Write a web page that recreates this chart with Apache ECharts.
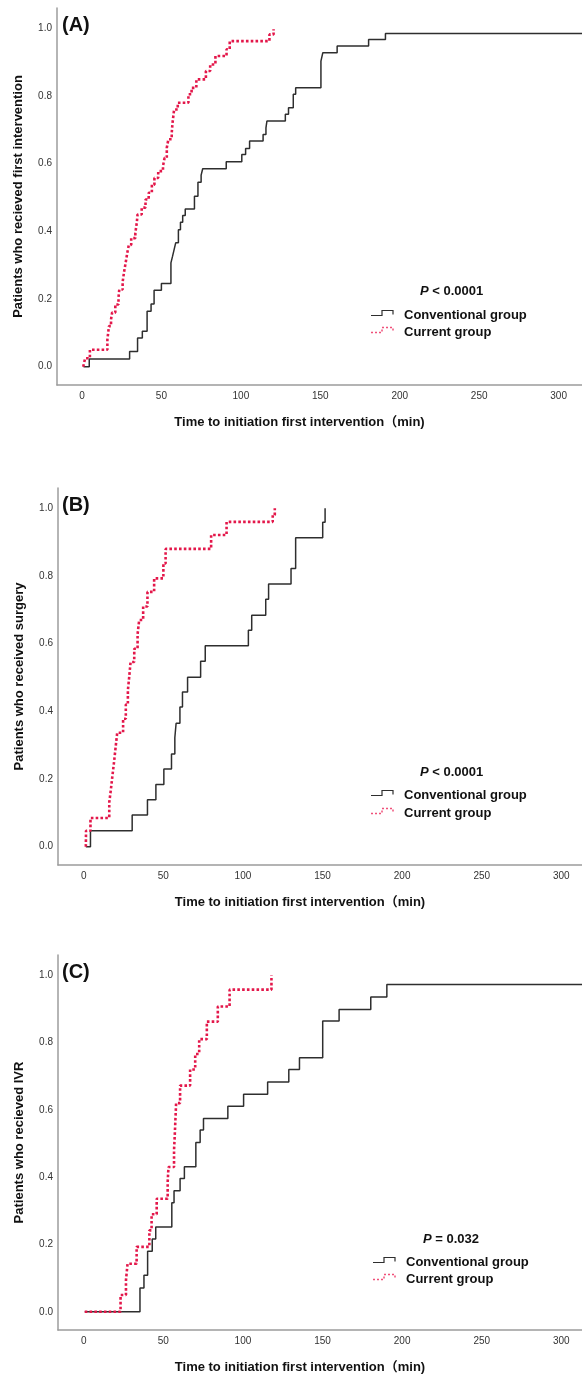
<!DOCTYPE html>
<html>
<head>
<meta charset="utf-8">
<script src="https://cdn.jsdelivr.net/npm/echarts@6/dist/echarts.min.js"></script>
<style>
html,body{margin:0;padding:0;background:#fff;}
#chart{width:582px;height:1375px;}
</style>
</head>
<body>
<div id="chart"></div>
<script>
// ---------- data ----------
const xTicks = [0, 50, 100, 150, 200, 250, 300];
const yTicks = [0, 0.2, 0.4, 0.6, 0.8, 1.0];
const seriesNames = ['Conventional group', 'Current group'];
const panelLabels = ['(A)', '(B)', '(C)'];
const yTitles = ['Patients who recieved first intervention', 'Patients who received surgery', 'Patients who recieved IVR'];
const xTitle = 'Time to initiation first intervention\uFF08min)';
const pLabels = [' < 0.0001', ' < 0.0001', ' = 0.032'];

// Panel A
const aConvTime = [1, 4.6, 30, 35, 38, 41, 43.5, 45.4, 50, 56, 57, 58, 59, 60.7, 62, 63.4, 65, 70.8, 73, 75, 76, 90.8, 100.6, 103, 105.5, 114, 115.8, 116.4, 128, 130, 133, 134.5, 150.4, 151.6, 160.6, 180.4, 191, 315];
const aConvVal  = [0, 0.023, 0.045, 0.085, 0.105, 0.164, 0.185, 0.226, 0.246, 0.307, 0.326, 0.346, 0.366, 0.405, 0.427, 0.447, 0.466, 0.504, 0.545, 0.566, 0.585, 0.606, 0.627, 0.645, 0.667, 0.686, 0.706, 0.726, 0.746, 0.765, 0.805, 0.824, 0.903, 0.928, 0.948, 0.967, 0.985, 0.985];
const aCurrTime = [0.8, 2, 5, 16, 17, 18.3, 19, 21, 23, 23.5, 25.6, 26.5, 27.5, 28.5, 29.5, 31, 33.6, 34.5, 35, 37.6, 40, 42, 44, 45.6, 48, 51, 52, 53.4, 54.4, 56.5, 57, 58, 60.3, 67, 69, 72, 78, 80.7, 84, 91, 93, 118, 120.6];
const aCurrVal  = [0, 0.025, 0.05, 0.08, 0.12, 0.14, 0.16, 0.184, 0.205, 0.228, 0.25, 0.28, 0.307, 0.336, 0.36, 0.38, 0.395, 0.425, 0.45, 0.47, 0.494, 0.514, 0.538, 0.558, 0.578, 0.593, 0.617, 0.647, 0.672, 0.691, 0.72, 0.76, 0.78, 0.805, 0.824, 0.849, 0.874, 0.893, 0.918, 0.938, 0.962, 0.982, 0.997];

// Panel B
const bConvTime = [1.3, 4.2, 30.4, 40, 45.3, 50.3, 55.1, 57.2, 58, 60.4, 62, 65.2, 73.4, 76.3, 103.4, 105.5, 114.3, 116.1, 130.2, 133.1, 150.1, 151.6];
const bConvVal  = [0, 0.047, 0.094, 0.139, 0.184, 0.23, 0.274, 0.322, 0.365, 0.413, 0.457, 0.501, 0.548, 0.594, 0.64, 0.684, 0.731, 0.776, 0.822, 0.913, 0.959, 1.0];
const bCurrTime = [1.3, 1.4, 4.2, 16, 17, 18, 19, 20, 21, 24.7, 26.4, 27.7, 28.5, 29.4, 31.7, 33.8, 34.8, 37.3, 40, 44.2, 50, 51.4, 80, 89.7, 118.7, 120];
const bCurrVal  = [0, 0.047, 0.085, 0.131, 0.168, 0.21, 0.25, 0.294, 0.337, 0.378, 0.42, 0.462, 0.5, 0.546, 0.585, 0.628, 0.67, 0.71, 0.753, 0.793, 0.837, 0.88, 0.921, 0.96, 0.98, 1.0];

// Panel C
const cConvTime = [0.6, 35.3, 37.8, 40.1, 43, 45.2, 55.3, 56.7, 60.5, 63.2, 70.4, 73.1, 75.2, 90.5, 100.4, 115.5, 128.8, 135.5, 150.1, 160.4, 180.3, 190.4, 315];
const cConvVal  = [0, 0.071, 0.109, 0.18, 0.216, 0.252, 0.324, 0.36, 0.396, 0.431, 0.503, 0.54, 0.574, 0.611, 0.646, 0.683, 0.72, 0.755, 0.864, 0.898, 0.935, 0.972, 0.972];
const cCurrTime = [0.6, 23.1, 26.5, 27.5, 33.2, 41.2, 42.6, 45.8, 52.7, 53.2, 56.7, 57.2, 57.6, 58, 60.5, 66.8, 70, 72.5, 77.3, 84.2, 91.6, 117.9];
const cCurrVal  = [0, 0.05, 0.094, 0.143, 0.193, 0.242, 0.29, 0.336, 0.385, 0.43, 0.48, 0.53, 0.575, 0.62, 0.672, 0.72, 0.766, 0.81, 0.862, 0.907, 0.957, 1.0];

// ---------- build ----------
const zip = (t, v) => t.map((x, i) => [x, v[i]]);
const panels = [
  {conv: zip(aConvTime, aConvVal), curr: zip(aCurrTime, aCurrVal)},
  {conv: zip(bConvTime, bConvVal), curr: zip(bCurrTime, bCurrVal)},
  {conv: zip(cConvTime, cConvVal), curr: zip(cCurrTime, cCurrVal)}
];

const layout = [
  {left: 57, top: 8,   xmin: -15.7, xmax: 314.7, legX: 371, pY: 291,  l1: 315,  l2: 332,  pX: 420},
  {left: 58, top: 488, xmin: -16.2, xmax: 313,   legX: 371, pY: 772,  l1: 795,  l2: 813,  pX: 420},
  {left: 58, top: 955, xmin: -16.2, xmax: 313,   legX: 373, pY: 1239, l1: 1262, l2: 1279, pX: 423}
];
const gridH = 377;
const FONT = '"Liberation Sans", Arial, "Noto Sans CJK SC", sans-serif';
const BLACK = '#2e2e2e';
const RED = '#e3174a';
const AXIS = '#9c9c9c';

const grids = [], xAxes = [], yAxes = [], series = [], graphics = [];
layout.forEach((L, i) => {
  grids.push({left: L.left, top: L.top, width: 582 - L.left, height: gridH});
  xAxes.push({
    type: 'value', gridIndex: i, min: L.xmin, max: L.xmax,
    axisLine: {show: true, onZero: false, lineStyle: {color: AXIS, width: 1.5}},
    axisTick: {show: false}, splitLine: {show: false},
    axisLabel: {customValues: xTicks, fontSize: 10, color: '#333', fontFamily: FONT, margin: 6},
    name: xTitle, nameLocation: 'middle', nameGap: 31,
    nameTextStyle: {fontSize: 13, fontWeight: 'bold', color: '#111', fontFamily: FONT, padding: [0, 40, 0, 0]}
  });
  yAxes.push({
    type: 'value', gridIndex: i, min: -0.054, max: 1.06,
    axisLine: {show: true, onZero: false, lineStyle: {color: AXIS, width: 1.5}},
    axisTick: {show: false}, splitLine: {show: false},
    axisLabel: {customValues: yTicks, fontSize: 10, color: '#333', fontFamily: FONT, margin: 5,
      formatter: v => v.toFixed(1)},
    name: yTitles[i], nameLocation: 'middle', nameGap: 32, nameRotate: 90,
    nameTextStyle: {fontSize: 13, fontWeight: 'bold', color: '#111', fontFamily: FONT}
  });
  series.push({
    name: seriesNames[0], type: 'line', step: 'end', xAxisIndex: i, yAxisIndex: i,
    data: panels[i].conv, showSymbol: false, symbol: 'none',
    lineStyle: {color: BLACK, width: 1.5}, z: 2, animation: false
  });
  series.push({
    name: seriesNames[1], type: 'line', step: 'end', xAxisIndex: i, yAxisIndex: i,
    data: panels[i].curr, showSymbol: false, symbol: 'none',
    lineStyle: {color: RED, width: 2.6, type: [2.6, 2.2]}, z: 3, animation: false
  });
  // panel label
  graphics.push({type: 'text', left: 62, top: L.top + 7,
    style: {text: panelLabels[i], font: 'bold 20px ' + FONT, fill: '#111'}});
  // P value
  graphics.push({type: 'text', x: L.pX, y: L.pY,
    style: {text: '{i|P}' + pLabels[i], font: 'bold 13px ' + FONT, fill: '#111', verticalAlign: 'middle',
      rich: {i: {fontStyle: 'italic', fontWeight: 'bold', fontSize: 13, fontFamily: FONT}}}});
  // legend icons
  const icon = (y, color, dash, w) => ({type: 'polyline', silent: true,
    shape: {points: [[L.legX, y], [L.legX + 11, y], [L.legX + 11, y - 5], [L.legX + 22, y - 5], [L.legX + 22, y - 1]]},
    style: {stroke: color, lineWidth: w, fill: null, lineDash: dash}});
  graphics.push(icon(L.l1 + 0.5, BLACK, null, 1.2));
  graphics.push(icon(L.l2 + 0.5, '#f0507a', [2, 2], 1.5));
  graphics.push({type: 'text', x: L.legX + 33, y: L.l1,
    style: {text: seriesNames[0], font: 'bold 13px ' + FONT, fill: '#111', verticalAlign: 'middle'}});
  graphics.push({type: 'text', x: L.legX + 33, y: L.l2,
    style: {text: seriesNames[1], font: 'bold 13px ' + FONT, fill: '#111', verticalAlign: 'middle'}});
});

const chart = echarts.init(document.getElementById('chart'), null, {renderer: 'canvas'});
chart.setOption({
  animation: false,
  backgroundColor: '#fff',
  grid: grids, xAxis: xAxes, yAxis: yAxes, series: series, graphic: graphics
});
</script>
</body>
</html>
